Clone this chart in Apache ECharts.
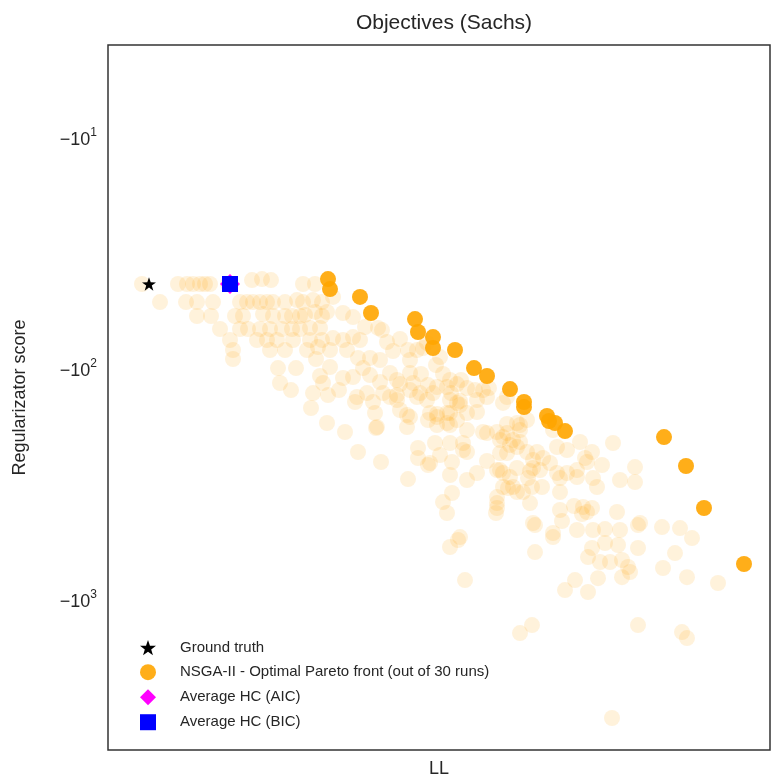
<!DOCTYPE html>
<html>
<head>
<meta charset="utf-8">
<script src="https://cdn.jsdelivr.net/npm/echarts@6/dist/echarts.min.js"></script>
<style>
html,body{margin:0;padding:0;background:#fff;}
#chart{width:772px;height:778px;}
</style>
</head>
<body>
<div id="chart"></div>
<script>
// ---- Data: [LL, regularizator score] ----
const titleText = 'Objectives (Sachs)';
const xName = 'LL';
const yName = 'Regularizator score';
const yTickPowers = [1, 2, 3];

const groundTruth = [[-659, -42.0]];
const hcAIC = [[-578, -42.0]];
const hcBIC = [[-578, -42.0]];

const paretoFront = [
  [-480, -40.0], [-478, -44.2], [-448, -47.8], [-437, -56.1], [-393, -59.6],
  [-390, -67.8], [-375, -71.3], [-375, -79.5], [-353, -81.1], [-334, -97.1],
  [-321, -105.1], [-298, -119.7], [-284, -136.2], [-284, -143.2], [-261, -156.6],
  [-259, -164.6], [-253, -167.9], [-243, -181.9], [-144, -193.1], [-122, -257.8],
  [-104, -391.8], [-64, -684.6]
];

const allRuns = [
  [-666,-42.0],[-630,-42.0],[-621,-42.0],[-615,-42.0],[-608,-42.0],[-603,-42.0],[-598,-42.0],[-580,-42.0],
  [-556,-40.4],[-546,-40.0],[-537,-40.4],[-505,-42.0],[-493,-42.0],
  [-648,-50.3],[-622,-50.3],[-611,-50.3],[-595,-50.3],[-568,-50.3],[-561,-50.3],[-555,-50.3],[-548,-50.3],
  [-541,-50.3],[-535,-50.3],[-523,-50.3],[-511,-49.3],[-505,-50.3],[-495,-49.3],[-486,-50.3],[-475,-47.8],
  [-611,-57.8],[-597,-57.8],[-573,-57.8],[-565,-57.8],[-545,-56.7],[-535,-57.8],[-523,-57.8],[-516,-57.8],
  [-508,-57.8],[-503,-57.2],[-493,-55.5],[-486,-57.8],[-481,-55.5],[-465,-56.1],[-455,-58.4],
  [-588,-65.8],[-568,-65.8],[-560,-65.8],[-548,-65.8],[-538,-65.8],[-526,-65.8],[-516,-65.8],[-508,-65.8],
  [-498,-65.1],[-488,-65.1],[-443,-64.5],[-430,-65.1],[-426,-66.5],
  [-578,-73.4],[-551,-73.4],[-541,-73.4],[-531,-73.4],[-515,-73.4],[-498,-73.4],[-486,-73.4],[-475,-72.0],
  [-465,-73.4],[-455,-71.3],[-448,-73.4],[-421,-74.9],[-408,-72.7],
  [-575,-81.1],[-538,-81.1],[-523,-81.1],[-501,-81.1],[-490,-78.7],[-478,-81.1],[-461,-81.1],[-415,-81.9],
  [-400,-81.1],[-391,-81.1],[-385,-79.5],[-381,-75.6],
  [-575,-88.7],[-492,-88.7],[-450,-87.8],[-438,-87.8],[-428,-89.6],[-398,-89.6],[-368,-87.0],
  [-530,-97.1],[-512,-97.1],[-478,-96.1],[-445,-97.1],[-372,-94.2],[-438,-104.1],[-418,-102.0],[-398,-102.0],
  [-387,-103.0],[-365,-103.0],[-488,-105.1],
  [-528,-112.7],[-485,-112.7],[-465,-107.2],[-455,-106.2],[-428,-111.6],[-411,-109.4],[-408,-113.9],
  [-395,-112.7],[-380,-115.0],[-358,-109.4],[-347,-109.4],
  [-517,-120.9],[-469,-120.9],[-495,-124.6],[-480,-127.1],[-451,-129.6],[-441,-124.6],[-425,-124.6],
  [-418,-129.6],[-411,-127.1],[-398,-120.9],[-391,-129.6],[-388,-124.6],[-375,-124.6],[-371,-117.3],
  [-361,-117.3],[-357,-124.6],[-351,-113.9],[-341,-118.5],[-333,-120.9],[-325,-120.9],[-319,-118.5],
  [-321,-129.6],[-301,-129.6],
  [-453,-136.2],[-435,-136.2],[-411,-133.5],[-381,-133.5],[-358,-133.5],[-348,-134.8],[-351,-137.5],
  [-331,-133.5],[-305,-137.5],
  [-497,-144.6],[-408,-147.5],[-433,-152.0],[-401,-155.0],[-398,-158.2],[-378,-152.0],[-371,-153.5],
  [-361,-152.0],[-358,-152.0],[-348,-140.3],[-341,-152.0],[-331,-150.5],[-371,-158.2],
  [-481,-167.9],[-380,-163.0],[-361,-167.9],[-351,-163.0],[-431,-174.8],[-401,-174.8],[-371,-171.3],
  [-358,-171.3],[-341,-180.1],[-325,-183.7],[-311,-183.7],[-301,-169.6],[-291,-167.9],[-288,-171.3],
  [-281,-163.0],[-463,-183.7],[-432,-176.5],[-321,-185.6],[-301,-185.6],[-288,-180.1],[-255,-180.1],
  [-308,-198.9],[-295,-198.9],[-305,-193.1],[-373,-204.9],[-358,-204.9],[-345,-204.9],[-390,-215.4],
  [-298,-209.1],[-288,-202.9],[-291,-213.3],[-251,-213.3],[-241,-219.8],[-228,-202.9],[-195,-204.9],
  [-450,-224.2],[-368,-231.0],[-345,-219.8],[-341,-224.2],[-301,-226.5],[-281,-224.2],[-271,-224.2],
  [-216,-224.2],[-390,-238.0],[-380,-255.2],[-356,-247.7],[-427,-247.7],[-378,-250.2],[-321,-245.2],
  [-308,-226.5],[-275,-242.8],[-265,-238.0],[-258,-250.2],[-223,-238.0],[-206,-255.2],[-221,-247.7],
  [-173,-260.4],[-275,-262.9],[-278,-271.0],[-268,-268.3],[-251,-276.4],[-241,-276.4],[-231,-268.3],
  [-308,-268.3],[-358,-282.0],[-331,-276.4],[-311,-268.3],[-341,-296.4],[-305,-276.4],[-291,-262.9],
  [-248,-290.6],[-231,-287.7],[-215,-290.6],[-298,-287.7],[-280,-290.6],[-188,-296.4],[-173,-302.4],
  [-400,-293.5],
  [-211,-317.8],[-295,-317.8],[-305,-317.8],[-266,-317.8],[-276,-317.8],[-300,-321.0],[-291,-334.1],
  [-285,-334.1],[-248,-334.1],[-356,-337.4],[-311,-351.2],
  [-365,-369.1],[-361,-411.8],[-311,-372.8],[-311,-391.8],[-312,-411.8],[-278,-372.8],[-234,-384.1],
  [-225,-387.9],[-216,-391.8],[-248,-399.7],[-191,-407.7],[-221,-407.7],[-226,-416.0],
  [-168,-455.0],[-146,-473.6],[-128,-478.3],[-275,-455.0],[-246,-446.0],[-273,-464.2],[-255,-502.7],
  [-231,-487.9],[-215,-487.9],[-203,-483.1],[-188,-487.9],[-170,-464.2],[-348,-523.2],
  [-116,-528.4],[-255,-523.2],[-350,-539.0],[-203,-555.3],[-216,-583.7],[-190,-566.5],[-170,-583.7],
  [-358,-577.9],[-273,-607.6],[-133,-613.7],[-220,-638.7],[-208,-671.1],[-198,-671.1],[-186,-657.9],
  [-180,-705.4],[-178,-741.5],[-186,-780.3],[-145,-712.5],[-121,-780.3],[-90,-827.4],[-233,-803.1],
  [-243,-887.3],[-220,-905.1],[-210,-788.1],[-343,-803.1],
  [-276,-1258],[-288,-1362],[-170,-1258],[-126,-1349],[-121,-1432],[-196,-3177]
];

const legendNames = ['Ground truth', 'NSGA-II - Optimal Pareto front (out of 30 runs)', 'Average HC (AIC)', 'Average HC (BIC)'];

// log axis works on magnitudes of the (negative) scores
const mag = arr => arr.map(p => [p[0], Math.abs(p[1])]);

const starPath = 'path://M0,-10L2.351,-3.236L9.511,-3.09L3.804,1.236L5.878,8.09L0,4L-5.878,8.09L-3.804,1.236L-9.511,-3.09L-2.351,-3.236Z';
const FONT = '"Liberation Sans", Arial, sans-serif';
const TXT = '#262626';

const chart = echarts.init(document.getElementById('chart'), null, {renderer: 'canvas'});
chart.setOption({
  animation: false,
  backgroundColor: '#ffffff',
  textStyle: {fontFamily: FONT, color: TXT},
  title: {
    text: titleText, left: 439, top: 8, textAlign: 'center',
    textStyle: {fontFamily: FONT, fontSize: 21, fontWeight: 'normal', color: TXT}
  },
  grid: {left: 108, right: 2, top: 45, bottom: 28, show: true, borderColor: '#333', borderWidth: 1.5,
         backgroundColor: 'transparent', containLabel: false, outerBoundsMode: 'none'},
  xAxis: {
    type: 'value', min: -700, max: -38,
    name: xName, nameLocation: 'middle', nameGap: 10,
    nameTextStyle: {fontFamily: FONT, fontSize: 18, color: TXT},
    axisLine: {show: false}, axisTick: {show: false}, axisLabel: {show: false}, splitLine: {show: false}
  },
  yAxis: {
    type: 'log', logBase: 10, inverse: true, min: 3.88, max: 4370,
    name: yName, nameLocation: 'middle', nameGap: 79,
    nameTextStyle: {fontFamily: FONT, fontSize: 18, color: TXT},
    axisLine: {show: false}, axisTick: {show: false}, splitLine: {show: false},
    axisLabel: {
      margin: 11,
      fontFamily: FONT, fontSize: 18, color: TXT,
      formatter: function (v) {
        const l = Math.log10(v);
        const n = Math.round(l);
        if (Math.abs(l - n) > 1e-6 || yTickPowers.indexOf(n) < 0) return '';
        return '\u221210{sup|' + n + '}';
      },
      rich: {sup: {fontFamily: FONT, fontSize: 12, color: TXT, padding: [0, 0, 14, 0]}}
    }
  },
  legend: {
    orient: 'vertical', left: 135, top: 635,
    itemWidth: 16, itemHeight: 16, itemGap: 9,
    textStyle: {fontFamily: FONT, fontSize: 15, color: TXT, padding: [0, 0, 0, 19]},
    data: [
      {name: legendNames[0], icon: starPath, itemStyle: {color: '#000', opacity: 1}},
      {name: legendNames[1], icon: 'circle', itemStyle: {color: '#FFA500', opacity: 0.9}},
      {name: legendNames[2], icon: 'diamond', itemStyle: {color: '#FF00FF', opacity: 1}},
      {name: legendNames[3], icon: 'rect', itemStyle: {color: '#0000FF', opacity: 1}}
    ]
  },
  series: [
    {
      type: 'scatter', name: 'runs', data: mag(allRuns), symbol: 'circle', symbolSize: 16,
      itemStyle: {color: 'rgba(255,165,0,0.14)', opacity: 1}, silent: true, z: 1
    },
    {
      type: 'scatter', name: legendNames[1], data: mag(paretoFront), symbol: 'circle', symbolSize: 16,
      itemStyle: {color: '#FFA500', opacity: 0.9}, z: 2
    },
    {
      type: 'scatter', name: legendNames[0], data: mag(groundTruth), symbol: starPath, symbolKeepAspect: true, symbolSize: 14,
      itemStyle: {color: '#000', opacity: 1}, z: 3
    },
    {
      type: 'scatter', name: legendNames[2], data: mag(hcAIC), symbol: 'diamond', symbolSize: 20,
      itemStyle: {color: '#FF00FF', opacity: 1}, z: 3
    },
    {
      type: 'scatter', name: legendNames[3], data: mag(hcBIC), symbol: 'rect', symbolSize: 16,
      itemStyle: {color: '#0000FF', opacity: 1}, z: 4
    }
  ]
});
</script>
</body>
</html>
